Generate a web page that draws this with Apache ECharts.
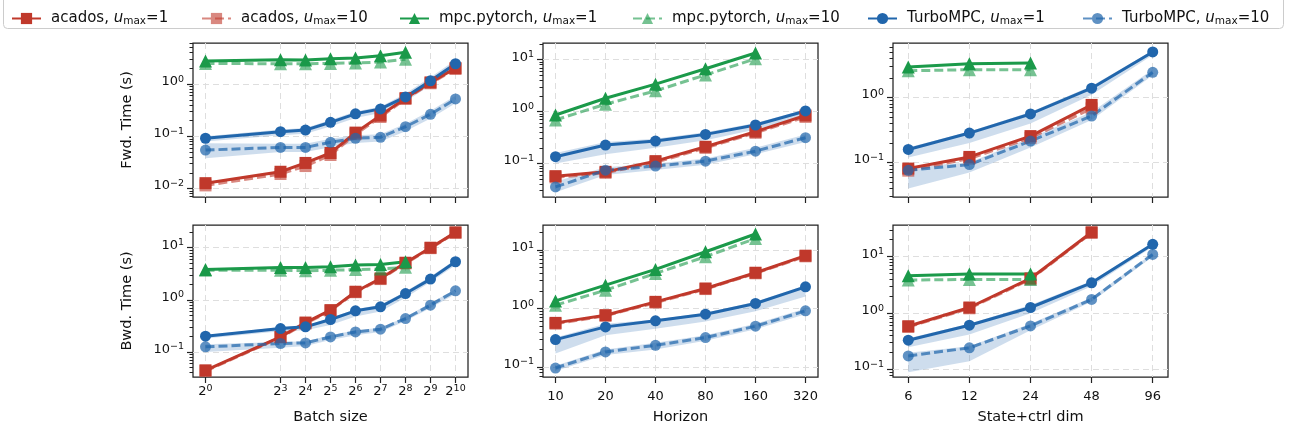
<!DOCTYPE html>
<html>
<head>
<meta charset="utf-8">
<script src="https://cdn.jsdelivr.net/npm/echarts@6/dist/echarts.min.js"></script>
<style>
  html, body { margin: 0; padding: 0; background: #fff; }
  #chart { width: 1290px; height: 434px; }
</style>
</head>
<body>
<div id="chart"></div>
<script>
// x values
const batchSizes = [1, 8, 16, 32, 64, 128, 256, 512, 1024];
const horizons = [10, 20, 40, 80, 160, 320];
const dims = [6, 12, 24, 48, 96];

// forward time vs batch size
const fwdBatchAcados1 = [0.0127, 0.021, 0.031, 0.048, 0.118, 0.25, 0.54, 1.08, 2.03];
const fwdBatchAcados10 = [0.0115, 0.019, 0.027, 0.044, 0.11, 0.235, 0.52, 1.04, 1.95];
const fwdBatchMpc1 = [2.77, 2.94, 2.9, 3.07, 3.16, 3.5, 4.1];
const fwdBatchMpc10 = [2.5, 2.45, 2.45, 2.5, 2.55, 2.65, 3.0];
const fwdBatchTurbo1 = [0.092, 0.123, 0.132, 0.186, 0.27, 0.336, 0.57, 1.16, 2.46];
const fwdBatchTurbo10 = [0.0546, 0.0615, 0.0615, 0.077, 0.092, 0.096, 0.153, 0.265, 0.52];
const fwdBatchTurbo1Lo = [0.08, 0.105, 0.112, 0.155, 0.225, 0.28, 0.46, 0.95, 2.1];
const fwdBatchTurbo1Hi = [0.1, 0.135, 0.145, 0.205, 0.3, 0.37, 0.66, 1.35, 2.9];
const fwdBatchTurbo10Lo = [0.038, 0.05, 0.05, 0.062, 0.075, 0.08, 0.125, 0.22, 0.43];
const fwdBatchTurbo10Hi = [0.074, 0.072, 0.072, 0.09, 0.105, 0.11, 0.175, 0.31, 0.6];

// forward time vs horizon
const fwdHorAcados1 = [0.057, 0.069, 0.111, 0.21, 0.41, 0.84];
const fwdHorAcados10 = [0.054, 0.066, 0.105, 0.2, 0.39, 0.79];
const fwdHorMpc1 = [0.86, 1.81, 3.38, 6.7, 13.5];
const fwdHorMpc10 = [0.69, 1.39, 2.51, 5.1, 10.4];
const fwdHorTurbo1 = [0.135, 0.227, 0.27, 0.364, 0.552, 1.03];
const fwdHorTurbo10 = [0.0353, 0.0743, 0.089, 0.111, 0.173, 0.314];
const fwdHorTurbo1Lo = [0.1, 0.15, 0.2, 0.28, 0.45, 0.8];
const fwdHorTurbo1Hi = [0.16, 0.26, 0.3, 0.4, 0.6, 1.1];
const fwdHorTurbo10Lo = [0.028, 0.06, 0.075, 0.095, 0.15, 0.26];
const fwdHorTurbo10Hi = [0.045, 0.085, 0.1, 0.125, 0.2, 0.36];

// forward time vs state+ctrl dim
const fwdDimAcados1 = [0.0807, 0.122, 0.255, 0.77];
const fwdDimAcados10 = [0.075, 0.115, 0.24, 0.68];
const fwdDimMpc1 = [2.94, 3.32, 3.4];
const fwdDimMpc10 = [2.58, 2.68, 2.68];
const fwdDimTurbo1 = [0.159, 0.284, 0.559, 1.39, 5.02];
const fwdDimTurbo10 = [0.076, 0.093, 0.214, 0.52, 2.44];
const fwdDimTurbo1Lo = [0.12, 0.2, 0.4, 1.1, 4.5];
const fwdDimTurbo1Hi = [0.17, 0.3, 0.6, 1.5, 5.3];
const fwdDimTurbo10Lo = [0.04, 0.07, 0.17, 0.45, 2.2];
const fwdDimTurbo10Hi = [0.085, 0.1, 0.24, 0.6, 2.7];

// backward time vs batch size
const bwdBatchAcados1 = [0.0443, 0.194, 0.366, 0.633, 1.43, 2.57, 5.15, 10.0, 19.7];
const bwdBatchAcados10 = [0.043, 0.19, 0.35, 0.62, 1.4, 2.5, 5.0, 9.8, 19.3];
const bwdBatchMpc1 = [3.83, 4.19, 4.19, 4.3, 4.64, 4.78, 5.38];
const bwdBatchMpc10 = [3.7, 3.7, 3.6, 3.7, 3.8, 3.9, 4.2];
const bwdBatchTurbo1 = [0.2, 0.281, 0.303, 0.419, 0.614, 0.733, 1.32, 2.5, 5.38];
const bwdBatchTurbo10 = [0.125, 0.145, 0.149, 0.194, 0.242, 0.273, 0.437, 0.79, 1.49];
const bwdBatchTurbo1Lo = [0.18, 0.25, 0.26, 0.33, 0.48, 0.6, 1.1, 2.2, 4.6];
const bwdBatchTurbo1Hi = [0.21, 0.3, 0.32, 0.45, 0.66, 0.8, 1.45, 2.8, 5.9];
const bwdBatchTurbo10Lo = [0.1, 0.12, 0.13, 0.17, 0.21, 0.24, 0.39, 0.7, 1.3];
const bwdBatchTurbo10Hi = [0.14, 0.155, 0.16, 0.21, 0.26, 0.29, 0.47, 0.87, 1.6];

// backward time vs horizon
const bwdHorAcados1 = [0.568, 0.769, 1.3, 2.2, 4.09, 8.0];
const bwdHorAcados10 = [0.55, 0.75, 1.26, 2.15, 4.0, 7.8];
const bwdHorMpc1 = [1.35, 2.51, 4.66, 9.36, 18.8];
const bwdHorMpc10 = [1.14, 2.06, 3.98, 7.69, 15.8];
const bwdHorTurbo1 = [0.294, 0.485, 0.615, 0.8, 1.22, 2.35];
const bwdHorTurbo10 = [0.096, 0.181, 0.235, 0.318, 0.498, 0.912];
const bwdHorTurbo1Lo = [0.17, 0.35, 0.45, 0.6, 0.9, 1.6];
const bwdHorTurbo1Hi = [0.32, 0.55, 0.65, 0.85, 1.3, 2.5];
const bwdHorTurbo10Lo = [0.085, 0.16, 0.2, 0.28, 0.44, 0.8];
const bwdHorTurbo10Hi = [0.105, 0.2, 0.26, 0.35, 0.55, 1.0];

// backward time vs state+ctrl dim
const bwdDimAcados1 = [0.587, 1.26, 4.12, 27.1];
const bwdDimAcados10 = [0.57, 1.22, 4.0, 26.5];
const bwdDimMpc1 = [4.6, 4.92, 4.92];
const bwdDimMpc10 = [3.86, 3.96, 3.96];
const bwdDimTurbo1 = [0.332, 0.612, 1.26, 3.45, 16.6];
const bwdDimTurbo10 = [0.175, 0.243, 0.595, 1.75, 11.0];
const bwdDimTurbo1Lo = [0.25, 0.42, 1.0, 3.0, 15];
const bwdDimTurbo1Hi = [0.36, 0.65, 1.4, 3.7, 17.5];
const bwdDimTurbo10Lo = [0.09, 0.14, 0.5, 1.6, 10];
const bwdDimTurbo10Hi = [0.2, 0.26, 0.65, 1.9, 11.5];

// axis limits and tick labels
const batchLimits = [Math.pow(2, -0.5), Math.pow(2, 10.5)];
const horLimits = [10 * Math.pow(2, -0.25), 320 * Math.pow(2, 0.25)];
const dimLimits = [6 * Math.pow(2, -0.25), 96 * Math.pow(2, 0.25)];
const yLimits = [[0.0069, 6.14], [0.0226, 21], [0.0295, 6.9], [0.033, 27.3], [0.0674, 26.8], [0.074, 36.5]];
const yMajorTicks = [[0.01, 0.1, 1], [0.1, 1, 10], [0.1, 1], [0.1, 1, 10], [0.1, 1, 10], [0.1, 1, 10]];
const legendNames = ['acados, umax=1', 'acados, umax=10', 'mpc.pytorch, umax=1', 'mpc.pytorch, umax=10', 'TurboMPC, umax=1', 'TurboMPC, umax=10'];

const RED = '#c0392b', GREEN = '#1b9a4a', BLUE = '#2166ac';
const styles = {
  'acados, umax=1': { color: RED, symbol: 'rect', size: 12, dash: false, alpha: 1 },
  'acados, umax=10': { color: RED, symbol: 'rect', size: 12, dash: true, alpha: 0.6 },
  'mpc.pytorch, umax=1': { color: GREEN, symbol: 'triangle', size: 13, dash: false, alpha: 1 },
  'mpc.pytorch, umax=10': { color: GREEN, symbol: 'triangle', size: 13, dash: true, alpha: 0.6 },
  'TurboMPC, umax=1': { color: BLUE, symbol: 'circle', size: 11, dash: false, alpha: 1 },
  'TurboMPC, umax=10': { color: BLUE, symbol: 'circle', size: 11, dash: true, alpha: 0.72 }
};

const FONT = 'DejaVu Sans';
const TXT = '#111';
const tickRich = {
  b: { fontSize: 13, lineHeight: 14, verticalAlign: 'bottom', color: TXT, fontFamily: FONT },
  s: { fontSize: 9.5, lineHeight: 10, padding: [0, 0, 10, 0], verticalAlign: 'top', color: TXT, fontFamily: FONT }
};

function minorTicks(lim) {
  const out = [];
  for (let e = -4; e <= 3; e++) {
    for (let k = 2; k <= 9; k++) {
      const v = k * Math.pow(10, e);
      if (v > lim[0] && v < lim[1]) out.push(v);
    }
  }
  return out;
}

const panels = [
  { xs: batchSizes, xlim: batchLimits, kind: 'batch', d: [fwdBatchAcados1, fwdBatchAcados10, fwdBatchMpc1, fwdBatchMpc10, fwdBatchTurbo1, fwdBatchTurbo10], band: [fwdBatchTurbo1Lo, fwdBatchTurbo1Hi, fwdBatchTurbo10Lo, fwdBatchTurbo10Hi] },
  { xs: horizons, xlim: horLimits, kind: 'plain', d: [fwdHorAcados1, fwdHorAcados10, fwdHorMpc1, fwdHorMpc10, fwdHorTurbo1, fwdHorTurbo10], band: [fwdHorTurbo1Lo, fwdHorTurbo1Hi, fwdHorTurbo10Lo, fwdHorTurbo10Hi] },
  { xs: dims, xlim: dimLimits, kind: 'plain', d: [fwdDimAcados1, fwdDimAcados10, fwdDimMpc1, fwdDimMpc10, fwdDimTurbo1, fwdDimTurbo10], band: [fwdDimTurbo1Lo, fwdDimTurbo1Hi, fwdDimTurbo10Lo, fwdDimTurbo10Hi] },
  { xs: batchSizes, xlim: batchLimits, kind: 'batch', d: [bwdBatchAcados1, bwdBatchAcados10, bwdBatchMpc1, bwdBatchMpc10, bwdBatchTurbo1, bwdBatchTurbo10], band: [bwdBatchTurbo1Lo, bwdBatchTurbo1Hi, bwdBatchTurbo10Lo, bwdBatchTurbo10Hi] },
  { xs: horizons, xlim: horLimits, kind: 'plain', d: [bwdHorAcados1, bwdHorAcados10, bwdHorMpc1, bwdHorMpc10, bwdHorTurbo1, bwdHorTurbo10], band: [bwdHorTurbo1Lo, bwdHorTurbo1Hi, bwdHorTurbo10Lo, bwdHorTurbo10Hi] },
  { xs: dims, xlim: dimLimits, kind: 'plain', d: [bwdDimAcados1, bwdDimAcados10, bwdDimMpc1, bwdDimMpc10, bwdDimTurbo1, bwdDimTurbo10], band: [bwdDimTurbo1Lo, bwdDimTurbo1Hi, bwdDimTurbo10Lo, bwdDimTurbo10Hi] }
];
const xTitles = ['Batch size', 'Horizon', 'State+ctrl dim'];
const yTitles = ['Fwd. Time (s)', 'Bwd. Time (s)'];

const grids = [], xAxes = [], yAxes = [], series = [];
const gridLefts = [193, 543, 893];
const gridTops = [43, 225];
const gridHeights = [154, 152];

panels.forEach((p, g) => {
  const row = Math.floor(g / 3), col = g % 3;
  grids.push({
    left: gridLefts[col], top: gridTops[row], width: 275, height: gridHeights[row],
    show: true, borderColor: '#222', borderWidth: 1.25, backgroundColor: '#fff'
  });
  xAxes.push({
    type: 'log', logBase: 2, gridIndex: g, position: 'bottom', min: p.xlim[0], max: p.xlim[1],
    axisLine: { show: false },
    axisTick: { show: true, length: 6, customValues: p.xs, lineStyle: { color: '#222', width: 1.2 } },
    axisLabel: {
      show: row === 1, customValues: p.xs,
      margin: p.kind === 'batch' ? 7 : 12,
      formatter: p.kind === 'batch'
        ? (v) => '{b|2}{s|' + Math.round(Math.log2(v)) + '}'
        : (v) => '{b|' + Math.round(v) + '}',
      rich: tickRich, color: TXT, fontFamily: FONT, fontSize: 13
    },
    splitLine: { show: true, lineStyle: { color: '#dedede', width: 1, type: [6, 4] } },
    name: row === 1 ? xTitles[col] : '', nameLocation: 'middle', nameGap: 33,
    nameTextStyle: { fontSize: 14.5, color: TXT, fontFamily: FONT }
  });
  yAxes.push({
    type: 'log', logBase: 10, gridIndex: g, position: 'left', offset: 0,
    min: yLimits[g][0], max: yLimits[g][1],
    axisLine: { show: false },
    axisTick: { show: true, length: 6, customValues: yMajorTicks[g], lineStyle: { color: '#222', width: 1.2 } },
    axisLabel: {
      customValues: yMajorTicks[g], margin: 9, padding: [0, 0, 6, 0],
      formatter: (v) => {
        const e = Math.round(Math.log10(v));
        return '{b|10}{s|' + (e < 0 ? '\u2212' + (-e) : e) + '}';
      },
      rich: tickRich
    },
    splitLine: { show: true, lineStyle: { color: '#dedede', width: 1, type: [6, 4] } },
    name: col === 0 ? yTitles[row] : '', nameLocation: 'middle', nameGap: 58,
    nameTextStyle: { fontSize: 14.5, color: TXT, fontFamily: FONT }
  });
  // minor ticks at 2..9 x 10^k
  yAxes.push({
    type: 'log', logBase: 10, gridIndex: g, position: 'left', offset: 0,
    min: yLimits[g][0], max: yLimits[g][1],
    axisLine: { show: false },
    axisTick: { show: true, length: 3.5, customValues: minorTicks(yLimits[g]), lineStyle: { color: '#222', width: 1 } },
    axisLabel: { show: false },
    splitLine: { show: false }
  });

  // shaded bands for TurboMPC
  [[p.band[0], p.band[1]], [p.band[2], p.band[3]]].forEach(([lo, hi]) => {
    series.push({
      type: 'custom', xAxisIndex: g, yAxisIndex: 2 * g, silent: true, z: 1,
      data: p.xs.map((x, i) => [x, lo[i], hi[i]]),
      encode: { x: 0, y: [1, 2] },
      renderItem(params, api) {
        if (params.dataIndex !== 0) return null;
        const top = p.xs.map((x, i) => api.coord([x, hi[i]]));
        const bot = p.xs.map((x, i) => api.coord([x, lo[i]])).reverse();
        return { type: 'polygon', shape: { points: top.concat(bot) }, style: { fill: 'rgba(33,102,172,0.22)' } };
      }
    });
  });

  legendNames.forEach((name, k) => {
    const st = styles[name];
    const ys = p.d[k];
    series.push({
      type: 'line', name, xAxisIndex: g, yAxisIndex: 2 * g, z: 2,
      data: ys.map((y, i) => [p.xs[i], y]),
      symbol: st.symbol, symbolSize: st.size, showSymbol: true,
      lineStyle: { color: st.color, width: 3, type: st.dash ? [9, 4] : 'solid', opacity: st.alpha },
      itemStyle: { color: st.color, opacity: st.alpha },
      emphasis: { disabled: true }
    });
  });
});

const legendLefts = [6, 196, 394, 627, 862, 1077];
const legends = legendNames.map((name, i) => ({
  data: [name], left: legendLefts[i], top: 6,
  itemWidth: 29, itemHeight: 14, selectedMode: false,
  formatter: (n) => {
    const parts = n.split(', umax=');
    return '{p|}{a|' + parts[0] + ', }{i|u}{s|max}{a|=' + parts[1] + '}';
  },
  textStyle: {
    rich: {
      p: { width: 5 },
      a: { fontSize: 15, lineHeight: 17, color: TXT, fontFamily: FONT },
      i: { fontSize: 15, lineHeight: 17, fontStyle: 'italic', color: TXT, fontFamily: FONT },
      s: { fontSize: 10.5, lineHeight: 10, verticalAlign: 'bottom', color: TXT, fontFamily: FONT }
    }
  }
}));

const chart = echarts.init(document.getElementById('chart'), null, { renderer: 'canvas' });
chart.setOption({
  animation: false,
  backgroundColor: '#fff',
  graphic: [{
    type: 'rect', left: 3, top: -6, z: -1,
    shape: { width: 1280, height: 34, r: 4 },
    style: { fill: '#fff', stroke: '#cccccc', lineWidth: 1 }
  }],
  legend: legends,
  grid: grids,
  xAxis: xAxes,
  yAxis: yAxes,
  series: series
});
</script>
</body>
</html>
